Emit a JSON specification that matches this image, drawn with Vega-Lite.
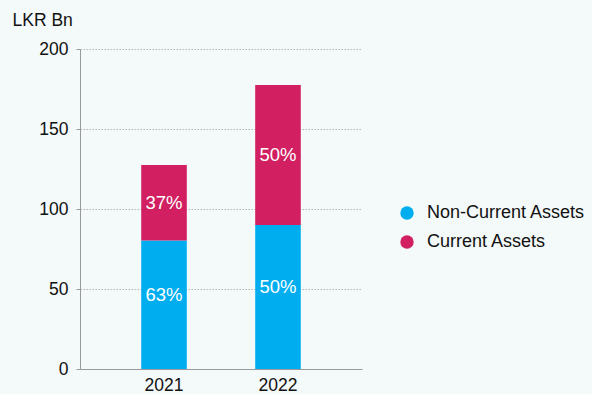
{
  "$schema": "https://vega.github.io/schema/vega-lite/v6.json",
  "width": 282,
  "height": 320,
  "autosize": {"type": "none"},
  "padding": {"left": 80, "top": 49, "right": 230, "bottom": 25},
  "background": "#f4f9f9",
  "config": {
    "view": {"stroke": null},
    "font": "Liberation Sans",
    "text": {"font": "Liberation Sans"}
  },
  "data": {
    "values": [
      {"year": "2021", "type": "Non-Current Assets", "value": 80.3, "pct": "63%", "ord": 1},
      {"year": "2021", "type": "Current Assets", "value": 47.2, "pct": "37%", "ord": 2},
      {"year": "2022", "type": "Non-Current Assets", "value": 90.0, "pct": "50%", "ord": 1},
      {"year": "2022", "type": "Current Assets", "value": 87.5, "pct": "50%", "ord": 2}
    ]
  },
  "transform": [
    {"stack": "value", "groupby": ["year"], "sort": [{"field": "ord", "order": "ascending"}], "as": ["v0", "v1"]},
    {"calculate": "(datum.v0 + datum.v1) / 2", "as": "mid"}
  ],
  "encoding": {
    "x": {
      "field": "year", "type": "nominal",
      "scale": {"paddingInner": 0.6, "paddingOuter": 0.537},
      "axis": {
        "title": null, "labelAngle": 0, "ticks": false,
        "domainColor": "#9a9a9a", "labelFontSize": 17.5, "labelColor": "#111",
        "labelPadding": 7, "labelFont": "Liberation Sans"
      }
    }
  },
  "layer": [
    {
      "mark": {"type": "bar"},
      "encoding": {
        "y": {
          "field": "v0", "type": "quantitative",
          "scale": {"domain": [0, 200]},
          "axis": {
            "values": [0, 50, 100, 150, 200],
            "title": "LKR Bn", "titleAngle": 0, "titleX": -68, "titleY": -24,
            "titleAlign": "left", "titleBaseline": "alphabetic",
            "titleFontSize": 17.5, "titleFontWeight": "normal", "titleColor": "#111",
            "titleFont": "Liberation Sans",
            "labelFontSize": 17.5, "labelColor": "#111", "labelPadding": 8,
            "labelFont": "Liberation Sans",
            "tickSize": 4, "tickColor": "#9a9a9a", "domainColor": "#9a9a9a",
            "grid": true, "gridColor": "#b5b5b5", "gridDash": [1.5, 1.5], "gridWidth": 1
          }
        },
        "y2": {"field": "v1"},
        "color": {
          "field": "type", "type": "nominal",
          "scale": {"domain": ["Non-Current Assets", "Current Assets"], "range": ["#00aeef", "#d11f62"]},
          "legend": {
            "title": null, "orient": "none", "legendX": 318, "legendY": 155,
            "symbolType": "circle", "symbolSize": 180, "symbolStrokeWidth": 0,
            "labelFontSize": 18, "labelColor": "#111", "labelFont": "Liberation Sans",
            "rowPadding": 11, "labelOffset": 11
          }
        }
      }
    },
    {
      "transform": [{"filter": "datum.type === 'Non-Current Assets'"}],
      "mark": {"type": "text", "color": "white", "fontSize": 18.5, "dy": -10, "font": "Liberation Sans"},
      "encoding": {
        "y": {"field": "mid", "type": "quantitative"},
        "text": {"field": "pct"}
      }
    },
    {
      "transform": [{"filter": "datum.type === 'Current Assets'"}],
      "mark": {"type": "text", "color": "white", "fontSize": 18.5, "dy": 0, "font": "Liberation Sans"},
      "encoding": {
        "y": {"field": "mid", "type": "quantitative"},
        "text": {"field": "pct"}
      }
    }
  ]
}
